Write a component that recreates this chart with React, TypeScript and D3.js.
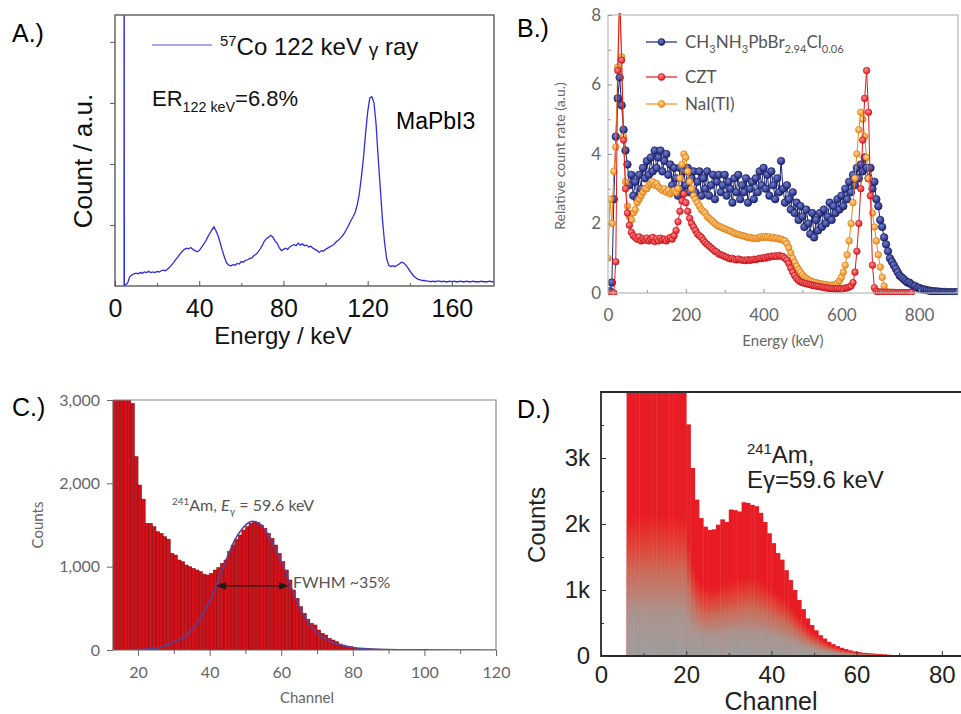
import * as d3 from 'd3';
import React, { useRef, useEffect } from 'react';

const ARIAL = '"Liberation Sans", Arial, sans-serif';
const SOFT = 'Lato, "Open Sans", sans-serif';

// A.) 57Co spectrum of MaPbI3, one value per keV starting at 6 keV
const aStart = 6;
const aCounts = [
  0.05, 0.15, 0.18, 0.2, 0.21, 0.2, 0.22, 0.21, 0.23, 0.22,
  0.24, 0.22, 0.23, 0.22, 0.24, 0.23, 0.25, 0.26, 0.25, 0.28,
  0.31, 0.35, 0.39, 0.44, 0.48, 0.53, 0.57, 0.6, 0.62, 0.61,
  0.63, 0.6, 0.58, 0.56, 0.58, 0.63, 0.68, 0.73, 0.8, 0.86,
  0.92, 0.97, 0.9, 0.82, 0.7, 0.58, 0.47, 0.38, 0.34, 0.33,
  0.35, 0.34, 0.37, 0.36, 0.4, 0.39, 0.42, 0.43, 0.45, 0.46,
  0.5, 0.52, 0.56, 0.61, 0.67, 0.74, 0.78, 0.8, 0.83, 0.8,
  0.74, 0.7, 0.63, 0.58, 0.6, 0.62, 0.6, 0.64, 0.66, 0.68,
  0.66, 0.7, 0.67, 0.69, 0.66, 0.67, 0.64, 0.65, 0.62, 0.6,
  0.58, 0.55, 0.58, 0.57, 0.6, 0.62, 0.64, 0.66, 0.68, 0.72,
  0.75, 0.78, 0.82, 0.87, 0.93, 1.0, 1.07, 1.13, 1.2, 1.32,
  1.5, 1.78, 2.1, 2.5, 2.85, 3.08, 3.1, 3.0, 2.65, 2.1,
  1.6, 1.1, 0.72, 0.45, 0.34, 0.32, 0.33, 0.32, 0.34, 0.36,
  0.39, 0.38, 0.35, 0.3, 0.25, 0.2, 0.16, 0.13, 0.11, 0.1,
  0.09, 0.09, 0.08, 0.08, 0.07, 0.08, 0.07, 0.08, 0.08, 0.07,
  0.08, 0.07, 0.07, 0.08, 0.07, 0.08, 0.07, 0.07, 0.08, 0.07,
  0.07, 0.08, 0.07, 0.07, 0.08, 0.07, 0.07, 0.07, 0.08, 0.07,
  0.07, 0.07, 0.08, 0.07, 0.07
];
const aSpike = [[4.3, 0], [4.3, 9], [4.45, 0]];
const aTicks = [0, 40, 80, 120, 160];
const aMinor = [20, 60, 100, 140];

// B.) relative count rate every 5 keV from 0 keV
const bStep = 5;
const bPerovskite = [
  0.0, 0.05, 0.3, 2.7, 4.5, 5.6, 6.2, 5.4, 4.7, 4.1,
  3.7, 3.1, 3.4, 2.8, 3.2, 2.7, 3.4, 3.0, 3.6, 3.3,
  3.8, 3.4, 3.9, 3.5, 4.1, 3.6, 3.9, 4.1, 3.5, 3.8,
  4.0, 3.4, 3.7, 3.1, 3.6, 3.3, 2.8, 3.6, 3.0, 3.5,
  3.1, 3.6, 2.9, 3.3, 3.5, 2.9, 3.2, 3.5, 2.8, 3.3,
  3.0, 3.5, 2.8, 3.1, 3.4, 2.7, 3.2, 3.4, 2.9, 3.1,
  3.4, 2.8, 3.2, 3.0, 2.6, 3.3, 2.9, 3.4, 2.7, 3.1,
  2.9, 3.3, 2.6, 3.0, 3.2, 2.7, 3.3, 2.9, 3.5, 3.1,
  3.6, 3.0, 3.4, 2.8, 3.5, 3.1, 2.7, 3.3, 2.9, 3.8,
  3.0, 2.6, 3.1, 2.7, 2.4, 2.9, 2.3, 2.6, 2.1, 2.5,
  2.2, 1.9, 2.4, 2.0, 1.7, 2.3, 1.6, 2.1, 1.8, 2.3,
  1.9, 2.4, 2.0, 2.2, 2.6, 2.1, 2.5, 2.3, 2.7, 2.4,
  2.8, 2.5, 3.0, 2.7, 3.2, 2.9, 3.4, 3.1, 3.6, 3.3,
  3.7, 3.5, 3.9, 3.6, 3.3, 3.6, 3.0, 3.2, 2.7, 2.5,
  2.1, 1.9, 1.6, 1.4, 1.2, 1.0, 0.9, 0.8, 0.7, 0.6,
  0.5, 0.45, 0.4, 0.35, 0.3, 0.3, 0.25, 0.2, 0.2, 0.15,
  0.15, 0.12, 0.1, 0.1, 0.08, 0.07, 0.06, 0.05, 0.05, 0.04,
  0.04, 0.03, 0.03, 0.03, 0.02, 0.02, 0.02, 0.02, 0.02, 0.02,
  0.02
];
const bCZT = [
  0, 0, 0, 0, 0.9, 6.4, 8.6, 6.7, 4.4, 3.0,
  2.3, 1.95, 1.75, 1.65, 1.6, 1.55, 1.62, 1.5, 1.56, 1.52,
  1.58, 1.5, 1.55, 1.6, 1.48, 1.56, 1.5, 1.58, 1.52, 1.55,
  1.5, 1.56, 1.6, 1.55, 1.65, 1.8, 2.05, 2.35, 2.65, 2.85,
  2.6, 2.35, 2.15, 2.0, 1.9, 1.8, 1.7, 1.65, 1.6, 1.52,
  1.45, 1.4, 1.35, 1.3, 1.25, 1.2, 1.18, 1.12, 1.1, 1.08,
  1.05, 1.03, 1.0, 0.98, 1.0, 0.97, 0.95, 0.98, 0.96, 0.94,
  0.95, 0.93, 0.96, 0.94, 0.95, 0.97, 0.96, 0.98, 1.0, 0.99,
  1.02, 1.0, 1.04, 1.03, 1.06, 1.05, 1.07, 1.05, 1.08, 1.06,
  1.05, 1.0, 0.95, 0.85, 0.72, 0.6, 0.5, 0.42, 0.36, 0.32,
  0.3, 0.28, 0.27, 0.25, 0.24, 0.22, 0.21, 0.2, 0.19, 0.18,
  0.17, 0.16, 0.15, 0.14, 0.13, 0.13, 0.12, 0.12, 0.12, 0.12,
  0.12, 0.13, 0.14, 0.15, 0.17, 0.2, 0.3, 0.6, 1.2, 2.0,
  3.0, 4.4, 5.6, 6.4, 5.2, 2.8, 0.8, 0.15, 0.05, 0.03,
  0.03, 0.02, 0.02, 0.02, 0.02, 0.02, 0.02, 0.02, 0.01, 0.01,
  0.01, 0.01, 0.01, 0.01, 0.01, 0.01, 0.01
];
const bNaI = [
  1.0, 2.7, 2.0, 3.5, 4.2, 6.5, 8.6, 6.8, 4.5, 3.2,
  2.5, 2.2, 2.1, 2.3, 2.4, 2.6, 2.7, 2.8, 2.9, 3.0,
  3.0, 3.1, 3.15, 3.2, 3.1, 3.15, 3.05, 3.0, 2.95, 3.0,
  2.9, 2.95, 2.85, 2.9, 2.95, 2.9, 3.0, 3.3, 3.7, 4.0,
  3.9, 3.5, 3.2, 3.0, 2.8, 2.7, 2.6, 2.5, 2.4, 2.35,
  2.3, 2.2, 2.15, 2.1, 2.05, 2.0, 1.95, 1.92, 1.9, 1.87,
  1.85, 1.82, 1.8, 1.78, 1.75, 1.72, 1.7, 1.68, 1.67, 1.65,
  1.64, 1.62, 1.6, 1.6, 1.58, 1.57, 1.58, 1.56, 1.6, 1.62,
  1.6, 1.63, 1.6, 1.62, 1.58, 1.6, 1.57, 1.58, 1.55, 1.55,
  1.52, 1.5, 1.42, 1.3, 1.15, 1.0, 0.88, 0.77, 0.68, 0.6,
  0.52, 0.46, 0.42, 0.38, 0.35, 0.33, 0.31, 0.3, 0.28, 0.27,
  0.26, 0.25, 0.24, 0.23, 0.22, 0.22, 0.23, 0.25, 0.28, 0.35,
  0.45, 0.6, 0.8, 1.1, 1.5, 2.0, 2.6, 3.3, 4.0, 4.7,
  5.2, 5.0, 4.5, 3.9, 3.3, 2.8, 2.3, 1.9, 1.5, 1.1,
  0.75, 0.45, 0.2, 0.05, 0.02
];
const bSeries = [
  { name: 'perovskite', values: bPerovskite, light: '#7480d0', dark: '#1b2478', edge: '#10164e', r: 3.8 },
  { name: 'NaI', values: bNaI, light: '#ffd79a', dark: '#f08a1a', edge: '#d9780e', r: 3.3 },
  { name: 'CZT', values: bCZT, light: '#ff8f8f', dark: '#e3161e', edge: '#b80e14', r: 3.3 }
];
const bTicksX = [0, 200, 400, 600, 800];
const bTicksY = [0, 2, 4, 6, 8];

// C.) 241Am histogram, one count per channel from channel 13
const cStart = 13;
const cCounts = [
  3400, 3400, 3400, 3400, 3400, 2960, 2320, 1980, 1810, 1520,
  1520, 1480, 1420, 1400, 1360, 1330, 1160, 1140, 1080, 1060,
  1020, 1000, 980, 960, 940, 910, 900, 920, 960, 990,
  1040, 1080, 1180, 1260, 1330, 1380, 1440, 1480, 1520, 1540,
  1530, 1500, 1460, 1400, 1340, 1260, 1160, 1060, 960, 840,
  720, 620, 520, 440, 370, 320, 300, 240, 200, 180,
  140, 120, 100, 72, 60, 48, 40, 32, 22, 20,
  18, 16, 14, 12, 11, 10, 10, 9, 8, 8,
  7, 7, 6, 5, 5, 4, 4, 4, 3, 3,
  3, 3, 3, 2, 2, 2, 2, 2, 2, 2,
  2, 2, 2, 1, 1, 1, 1, 1
];
const cFitCh = [15, 20, 25, 28, 30, 33, 35, 37, 39, 41, 43, 45, 47, 49, 51, 52, 53, 55, 57, 59, 61, 63, 65, 67, 69, 71, 73, 75, 77, 80, 85, 90, 97];
const cFit = [2, 5, 20, 60, 95, 160, 240, 350, 500, 680, 900, 1120, 1320, 1450, 1530, 1545, 1535, 1470, 1330, 1150, 960, 730, 520, 370, 250, 170, 120, 80, 55, 30, 12, 6, 3];
const cFwhm = [42.3, 61.5, 770];
const cTicksX = [20, 40, 60, 80, 100, 120];
const cMinorX = [30, 50, 70, 90, 110];
const cTicksY = [0, 1000, 2000, 3000];

// D.) 241Am histogram, one count per channel from channel 6
const dStart = 6;
const dCounts = [
  9000, 9000, 9000, 9000, 9000, 9000, 9000, 9000, 9000, 9000,
  9000, 9000, 9000, 9000, 3510, 2850, 2370, 2090, 1960, 1910,
  1920, 1990, 2070, 2030, 2220, 2210, 2190, 2330, 2320, 2290,
  2270, 2170, 2030, 1860, 1710, 1560, 1460, 1300, 1150, 1000,
  850, 710, 570, 470, 390, 315, 265, 215, 180, 150,
  125, 105, 85, 70, 60, 50, 45, 40, 35, 30,
  25, 20, 15, 10, 5
];
// height of the grey shading at the foot of each column
const dShade = [
  2150, 2150, 2150, 2150, 2150, 2150, 2150, 2150, 2150, 2150,
  2150, 2150, 2150, 2150, 1750, 1400, 1200, 1100, 1050, 1030,
  1040, 1060, 1090, 1110, 1140, 1160, 1180, 1200, 1210, 1200,
  1180, 1150, 1110, 1060, 1010, 950, 890, 820, 750, 670,
  590, 505, 430, 365, 310, 260, 220, 180, 150, 125,
  100, 85, 70, 58, 50, 42, 38, 34, 30, 26,
  21, 17, 13, 9, 5
];
const dTicksX = [0, 20, 40, 60, 80];
const dMinorX = [10, 30, 50, 70];
const dTicksY = [0, 1000, 2000, 3000];
const dMinorY = [500, 1500, 2500, 3500];

// parts: [text, kind, fontStyle]; kind is sup, sub, small or nothing
const rich = (parent, x, y, parts, size, font, color, anchor = 'start') => {
  const t = parent.append('text').attr('x', x).attr('y', y)
    .attr('text-anchor', anchor)
    .style('font-family', font).style('font-size', size + 'px').style('fill', color);
  let shift = 0;
  parts.forEach(([txt, kind, extra]) => {
    const s = t.append('tspan').text(txt);
    let target = 0;
    if (kind === 'sup') { s.attr('font-size', size * 0.62); target = -size * 0.38; }
    if (kind === 'sub') { s.attr('font-size', size * 0.65); target = size * 0.28; }
    if (kind === 'small') { s.attr('font-size', size * 0.8); target = size * 0.05; }
    if (target !== shift) s.attr('dy', target - shift);
    shift = target;
    if (extra) s.style('font-style', extra);
  });
  return t;
};

const styleAxis = (g, font, size, color, lineColor) => {
  g.select('.domain').remove();
  g.selectAll('text').style('font-family', font).style('font-size', size + 'px').style('fill', color);
  g.selectAll('line').attr('stroke', lineColor);
};

const vLabel = (parent, x, y, txt, size, font, color) =>
  parent.append('text').attr('transform', `translate(${x},${y}) rotate(-90)`)
    .attr('text-anchor', 'middle')
    .style('font-family', font).style('font-size', size + 'px').style('fill', color)
    .text(txt);

const App = () => {
  const ref = useRef();

  useEffect(() => {
    const svg = d3.select(ref.current);
    svg.selectAll('*').remove();
    const defs = svg.append('defs');

    // ---------- A ----------
    {
      const g = svg.append('g');
      const x = d3.scaleLinear().domain([0, 180]).range([115, 494]);
      const y = d3.scaleLinear().domain([0, 4.44]).range([286, 15]);
      defs.append('clipPath').attr('id', 'clipA').append('rect')
        .attr('x', 115).attr('y', 15).attr('width', 379).attr('height', 271);

      const pts = aSpike.concat(aCounts.map((v, i) => [aStart + i, v]));
      g.append('path').datum(pts)
        .attr('clip-path', 'url(#clipA)')
        .attr('d', d3.line().x(d => x(d[0])).y(d => y(d[1])))
        .attr('fill', 'none').attr('stroke', '#2e2ee0').attr('stroke-width', 1.3);

      g.append('rect').attr('x', 115).attr('y', 15).attr('width', 379).attr('height', 271)
        .attr('fill', 'none').attr('stroke', '#666').attr('stroke-width', 1.5);

      const xa = g.append('g').attr('transform', 'translate(0,286)')
        .call(d3.axisBottom(x).tickValues(aTicks).tickSize(-5).tickPadding(13));
      styleAxis(xa, ARIAL, 25, '#111', '#555');
      const xm = g.append('g').attr('transform', 'translate(0,286)')
        .call(d3.axisBottom(x).tickValues(aMinor).tickSize(-3).tickFormat(() => ''));
      styleAxis(xm, ARIAL, 10, '#111', '#555');
      const ya = g.append('g').attr('transform', 'translate(115,0)')
        .call(d3.axisLeft(y).tickValues([1, 2, 3, 4]).tickSize(5).tickFormat(() => ''));
      styleAxis(ya, ARIAL, 10, '#111', '#555');

      g.append('text').attr('x', 12).attr('y', 42).style('font-family', ARIAL).style('font-size', '25px').text('A.)');
      vLabel(g, 92, 161, 'Count / a.u.', 26, ARIAL, '#111');
      g.append('text').attr('x', 283).attr('y', 344).attr('text-anchor', 'middle')
        .style('font-family', ARIAL).style('font-size', '24px').style('fill', '#111').text('Energy / keV');

      g.append('line').attr('x1', 152).attr('x2', 212).attr('y1', 45).attr('y2', 45)
        .attr('stroke', '#8a8af0').attr('stroke-width', 1.5);
      rich(g, 220, 55, [['57', 'sup'], ['Co 122 keV '], ['γ', 'small'], [' ray']], 24, ARIAL, '#111');
      rich(g, 152, 106, [['ER'], ['122 keV', 'sub'], ['=6.8%']], 22, ARIAL, '#111');
      g.append('text').attr('x', 396).attr('y', 129).style('font-family', ARIAL).style('font-size', '23px').text('MaPbI3');
    }

    // ---------- B ----------
    {
      const g = svg.append('g');
      const x = d3.scaleLinear().domain([0, 900]).range([608, 958]);
      const y = d3.scaleLinear().domain([0, 8]).range([293, 15]);
      defs.append('clipPath').attr('id', 'clipB').append('rect')
        .attr('x', 608).attr('y', 13).attr('width', 350).attr('height', 282);

      bSeries.forEach(s => {
        const grad = defs.append('radialGradient').attr('id', 'ball-' + s.name)
          .attr('cx', '0.4').attr('cy', '0.35').attr('r', '0.65');
        grad.append('stop').attr('offset', '0').attr('stop-color', s.light);
        grad.append('stop').attr('offset', '1').attr('stop-color', s.dark);
      });

      const plot = g.append('g').attr('clip-path', 'url(#clipB)');
      bSeries.forEach(s => {
        const pts = s.values.map((v, i) => [i * bStep, v]);
        plot.append('path').datum(pts)
          .attr('d', d3.line().x(d => x(d[0])).y(d => y(d[1])))
          .attr('fill', 'none').attr('stroke', s.dark).attr('stroke-width', 1);
        plot.selectAll(null).data(pts).enter().append('circle')
          .attr('cx', d => x(d[0])).attr('cy', d => y(d[1])).attr('r', s.r)
          .attr('fill', `url(#ball-${s.name})`).attr('stroke', s.edge).attr('stroke-width', 0.6);
      });

      g.append('rect').attr('x', 608).attr('y', 15).attr('width', 350).attr('height', 278)
        .attr('fill', 'none').attr('stroke', '#b8b8b8').attr('stroke-width', 1.2);

      const xa = g.append('g').attr('transform', 'translate(0,293)')
        .call(d3.axisBottom(x).tickValues(bTicksX).tickSize(-4).tickPadding(16));
      styleAxis(xa, SOFT, 17, '#666', '#999');
      const xm = g.append('g').attr('transform', 'translate(0,293)')
        .call(d3.axisBottom(x).tickValues([100, 300, 500, 700]).tickSize(-3).tickFormat(() => ''));
      styleAxis(xm, SOFT, 10, '#666', '#999');
      const ya = g.append('g').attr('transform', 'translate(608,0)')
        .call(d3.axisLeft(y).tickValues(bTicksY).tickSize(-4).tickPadding(7));
      styleAxis(ya, SOFT, 17, '#666', '#999');
      const ym = g.append('g').attr('transform', 'translate(608,0)')
        .call(d3.axisLeft(y).tickValues([1, 3, 5, 7]).tickSize(-3).tickFormat(() => ''));
      styleAxis(ym, SOFT, 10, '#666', '#999');

      g.append('text').attr('x', 517).attr('y', 37).style('font-family', ARIAL).style('font-size', '25px').text('B.)');
      vLabel(g, 565, 156, 'Relative count rate (a.u.)', 14, SOFT, '#666');
      g.append('text').attr('x', 783).attr('y', 346).attr('text-anchor', 'middle')
        .style('font-family', SOFT).style('font-size', '15px').style('fill', '#666').text('Energy (keV)');

      const legend = [
        { s: bSeries[0], y: 42, parts: [['CH'], ['3', 'sub'], ['NH'], ['3', 'sub'], ['PbBr'], ['2.94', 'sub'], ['Cl'], ['0.06', 'sub']] },
        { s: bSeries[2], y: 77, parts: [['CZT']] },
        { s: bSeries[1], y: 104, parts: [['NaI(TI)']] }
      ];
      legend.forEach(l => {
        g.append('line').attr('x1', 646).attr('x2', 677).attr('y1', l.y).attr('y2', l.y)
          .attr('stroke', l.s.dark).attr('stroke-width', 1.2);
        g.append('circle').attr('cx', 661.5).attr('cy', l.y).attr('r', 3.4)
          .attr('fill', `url(#ball-${l.s.name})`).attr('stroke', l.s.edge).attr('stroke-width', 0.6);
        rich(g, 685, l.y + 6, l.parts, 17, SOFT, '#555');
      });
    }

    // ---------- C ----------
    {
      const g = svg.append('g');
      const x = d3.scaleLinear().domain([13, 120]).range([113, 496]);
      const y = d3.scaleLinear().domain([0, 3000]).range([650, 400]);
      defs.append('clipPath').attr('id', 'clipC').append('rect')
        .attr('x', 113).attr('y', 400).attr('width', 383).attr('height', 250);

      const plot = g.append('g').attr('clip-path', 'url(#clipC)');
      plot.selectAll(null).data(cCounts).enter().append('rect')
        .attr('x', (d, i) => x(cStart + i))
        .attr('width', (d, i) => x(cStart + i + 1) - x(cStart + i))
        .attr('y', d => y(d))
        .attr('height', d => y(0) - y(d))
        .attr('fill', '#d2111a').attr('stroke', '#7c0a0c').attr('stroke-width', 0.5);

      plot.append('path').datum(cFitCh.map((c, i) => [c, cFit[i]]))
        .attr('d', d3.line().curve(d3.curveMonotoneX).x(d => x(d[0])).y(d => y(d[1])))
        .attr('fill', 'none').attr('stroke', '#55449a').attr('stroke-width', 1.6);

      const mk = defs.append('marker').attr('id', 'arrowC').attr('viewBox', '0 0 10 10')
        .attr('refX', 8).attr('refY', 5).attr('markerWidth', 7).attr('markerHeight', 7)
        .attr('orient', 'auto-start-reverse');
      mk.append('path').attr('d', 'M0,1 L10,5 L0,9 z').attr('fill', '#1a1a1a');
      g.append('line')
        .attr('x1', x(cFwhm[0])).attr('x2', x(cFwhm[1]))
        .attr('y1', y(cFwhm[2])).attr('y2', y(cFwhm[2]))
        .attr('stroke', '#1a1a1a').attr('stroke-width', 1.4)
        .attr('marker-start', 'url(#arrowC)').attr('marker-end', 'url(#arrowC)');

      g.append('path').attr('d', 'M113,400 H496 V650').attr('fill', 'none').attr('stroke', '#8a8a8a').attr('stroke-width', 1.2);
      g.append('path').attr('d', 'M113,400 V650 H496').attr('fill', 'none').attr('stroke', '#666').attr('stroke-width', 1.2);

      const xa = g.append('g').attr('transform', 'translate(0,650)')
        .call(d3.axisBottom(x).tickValues(cTicksX).tickSize(6).tickPadding(10.5));
      styleAxis(xa, SOFT, 16, '#666', '#666');
      const xm = g.append('g').attr('transform', 'translate(0,650)')
        .call(d3.axisBottom(x).tickValues(cMinorX).tickSize(4).tickFormat(() => ''));
      styleAxis(xm, SOFT, 10, '#666', '#666');
      const ya = g.append('g').attr('transform', 'translate(113,0)')
        .call(d3.axisLeft(y).tickValues(cTicksY).tickSize(6).tickPadding(7).tickFormat(d3.format(',')));
      styleAxis(ya, SOFT, 16, '#666', '#666');

      g.append('text').attr('x', 12).attr('y', 416).style('font-family', ARIAL).style('font-size', '25px').text('C.)');
      vLabel(g, 43, 525, 'Counts', 15, SOFT, '#666');
      g.append('text').attr('x', 307).attr('y', 703).attr('text-anchor', 'middle')
        .style('font-family', SOFT).style('font-size', '15px').style('fill', '#666').text('Channel');
      rich(g, 172, 511, [['241', 'sup'], ['Am, '], ['E', null, 'italic'], ['γ', 'sub'], [' = 59.6 keV']], 16, SOFT, '#555');
      g.append('text').attr('x', 293).attr('y', 588)
        .style('font-family', SOFT).style('font-size', '16px').style('fill', '#555').text('FWHM ~35%');
    }

    // ---------- D ----------
    {
      const g = svg.append('g');
      const x = d3.scaleLinear().domain([0, 80]).range([601, 941.8]);
      const y = d3.scaleLinear().domain([0, 4000]).range([656, 392]);
      defs.append('clipPath').attr('id', 'clipD').append('rect')
        .attr('x', 601).attr('y', 392).attr('width', 370).attr('height', 264);

      const shade = defs.append('linearGradient').attr('id', 'shadeD')
        .attr('x1', 0).attr('y1', 1).attr('x2', 0).attr('y2', 0);
      shade.append('stop').attr('offset', '0').attr('stop-color', '#9e9e9e').attr('stop-opacity', 1);
      shade.append('stop').attr('offset', '0.3').attr('stop-color', '#a89a94').attr('stop-opacity', 0.95);
      shade.append('stop').attr('offset', '0.6').attr('stop-color', '#c08a6e').attr('stop-opacity', 0.7);
      shade.append('stop').attr('offset', '0.85').attr('stop-color', '#d8704a').attr('stop-opacity', 0.3);
      shade.append('stop').attr('offset', '1').attr('stop-color', '#e05a40').attr('stop-opacity', 0);

      const plot = g.append('g').attr('clip-path', 'url(#clipD)');
      plot.selectAll(null).data(dCounts).enter().append('rect')
        .attr('x', (d, i) => x(dStart + i))
        .attr('width', (d, i) => x(dStart + i + 1) - x(dStart + i) + 0.4)
        .attr('y', d => y(Math.min(d, 4100)))
        .attr('height', d => y(0) - y(Math.min(d, 4100)))
        .attr('fill', '#e81c24');
      plot.selectAll(null).data(dShade).enter().append('rect')
        .attr('x', (d, i) => x(dStart + i))
        .attr('width', (d, i) => x(dStart + i + 1) - x(dStart + i) + 0.4)
        .attr('y', d => y(d))
        .attr('height', d => y(0) - y(d))
        .attr('fill', 'url(#shadeD)');

      g.append('path').attr('d', 'M961,392 H601 V656 H961').attr('fill', 'none')
        .attr('stroke', '#2a2a2a').attr('stroke-width', 1.8);

      const xa = g.append('g').attr('transform', 'translate(0,656)')
        .call(d3.axisBottom(x).tickValues(dTicksX).tickSize(-5).tickPadding(10));
      styleAxis(xa, ARIAL, 24, '#222', '#333');
      const xm = g.append('g').attr('transform', 'translate(0,656)')
        .call(d3.axisBottom(x).tickValues(dMinorX).tickSize(-3).tickFormat(() => ''));
      styleAxis(xm, ARIAL, 10, '#222', '#333');
      const ya = g.append('g').attr('transform', 'translate(601,0)')
        .call(d3.axisLeft(y).tickValues(dTicksY).tickSize(-5).tickPadding(11)
          .tickFormat(d => (d === 0 ? '0' : d / 1000 + 'k')));
      styleAxis(ya, ARIAL, 24, '#222', '#333');
      const ym = g.append('g').attr('transform', 'translate(601,0)')
        .call(d3.axisLeft(y).tickValues(dMinorY).tickSize(-3).tickFormat(() => ''));
      styleAxis(ym, ARIAL, 10, '#222', '#333');

      g.append('text').attr('x', 517).attr('y', 418).style('font-family', ARIAL).style('font-size', '25px').text('D.)');
      vLabel(g, 545, 525, 'Counts', 24, ARIAL, '#222');
      g.append('text').attr('x', 771).attr('y', 710).attr('text-anchor', 'middle')
        .style('font-family', ARIAL).style('font-size', '25px').style('fill', '#222').text('Channel');
      rich(g, 747, 463, [['241', 'sup'], ['Am,']], 24, ARIAL, '#222');
      g.append('text').attr('x', 747).attr('y', 488)
        .style('font-family', ARIAL).style('font-size', '24px').style('fill', '#222').text('Eγ=59.6 keV');
    }

    return () => {
      svg.selectAll('*').remove();
    };
  }, []);

  return (
    <svg ref={ref} width={961} height={714}
      style={{ position: 'absolute', left: 0, top: 0, background: '#fff' }}></svg>
  );
};

export default App;
